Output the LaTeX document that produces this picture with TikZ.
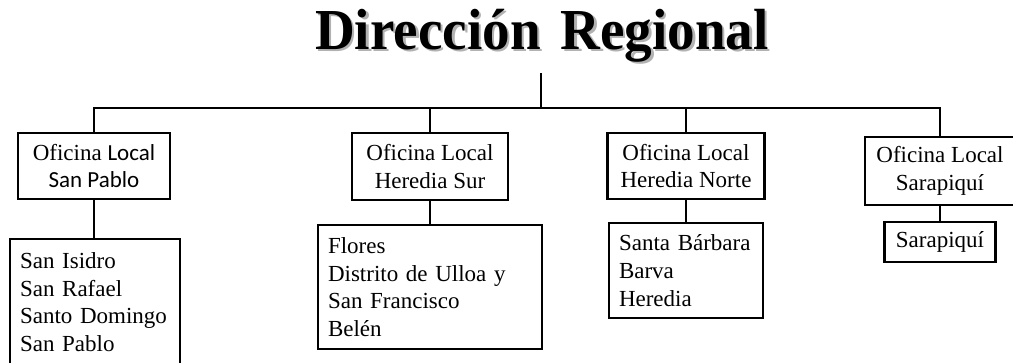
\documentclass[tikz,border=0pt]{standalone}
\usepackage{fontspec}
\setmainfont{Liberation Serif}
\newfontfamily\calfont{Carlito}
\newfontface\titleface[FakeStretch=0.95]{Liberation Serif Bold}
\begin{document}
\begin{tikzpicture}[x=1pt,y=-1pt,
  line width=2.1pt,
  office/.style={draw,line width=2.1pt,inner sep=0pt,align=center,
    font=\fontsize{23}{27.5}\selectfont},
  listbox/.style={draw,line width=2.1pt,inner xsep=10pt,inner ysep=0pt,align=left,
    font=\fontsize{23}{27.7}\selectfont},
  titlefont/.style={font=\fontsize{58}{60}\titleface,anchor=base,inner sep=10pt}]
\useasboundingbox (0,0) rectangle (1013,362);
% title with shadow
\node[titlefont,text=black!30] (shadow) at (544.5,51.5) {Dirección\hspace{20pt}Regional};
\node[titlefont] (title) at (542,49.5) {Dirección\hspace{20pt}Regional};
\coordinate (hub) at (541,108);
% offices
\node[office,minimum width=152pt,minimum height=66pt] (o1) at (94,166)
  {Oficina {\calfont Local}\\{\calfont San Pablo}};
\node[office,minimum width=156pt,minimum height=67pt] (o2) at (430,166.5)
  {Oficina Local\\Heredia Sur};
\node[office,minimum width=157pt,minimum height=66pt] (o3) at (686,166)
  {Oficina Local\\Heredia Norte};
\node[office,minimum width=150pt,minimum height=68pt] (o4) at (940,171)
  {Oficina Local\\Sarapiquí};
% lists
\node[listbox,text width=150pt,minimum width=170pt,minimum height=126pt] (c1) at (95,302)
  {San Isidro\\San Rafael\\Santo Domingo\\San Pablo};
\node[listbox,text width=204pt,minimum width=224pt,minimum height=124pt] (c2) at (430,287)
  {Flores\\Distrito de Ulloa y\\San Francisco\\Belén};
\node[listbox,text width=134pt,minimum width=154pt,minimum height=95pt] (c3) at (686,270.5)
  {Santa Bárbara\\Barva\\Heredia};
\node[office,minimum width=111pt,minimum height=40pt] (c4) at (940,242)
  {Sarapiquí};
% connectors
\draw (hub |- title.south) -- (hub);
\draw (o1.north) |- (hub) -| (o4.north);
\draw (o2.north) -- (o2.north |- hub);
\draw (o3.north) -- (o3.north |- hub);
\draw (o1.south) -- (o1.south |- c1.north);
\draw (o2.south) -- (c2.north);
\draw (o3.south) -- (c3.north);
\draw (o4.south) -- (c4.north);
\end{tikzpicture}
\end{document}
